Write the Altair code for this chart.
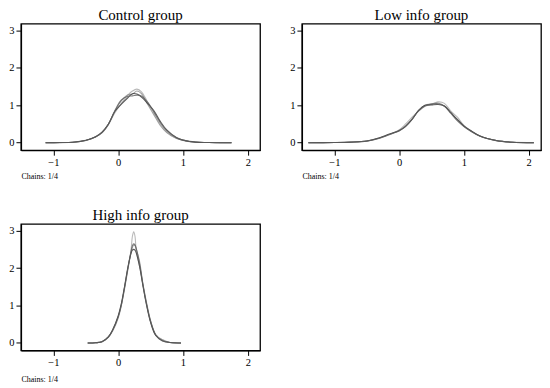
import altair as alt
import pandas as pd

# ---------------- data ----------------
panel_titles = ["Control group", "Low info group", "High info group"]
chain_names = ["1", "2", "3", "4"]
chain_colors = ["#a8a8a8", "#8a8a8a", "#333333", "#5c5c5c"]

ctrl_x = [-1.12, -0.9, -0.7, -0.5, -0.35, -0.25, -0.15, -0.05, 0.05, 0.15, 0.22,
          0.29, 0.36, 0.45, 0.55, 0.65, 0.75, 0.9, 1.1, 1.4, 1.75]
ctrl_y1 = [0, 0.002, 0.01, 0.06, 0.15, 0.26, 0.48, 0.80, 1.05, 1.27, 1.38,
           1.43, 1.36, 1.10, 0.80, 0.50, 0.29, 0.12, 0.03, 0.004, 0]
ctrl_y2 = [0, 0.002, 0.012, 0.06, 0.15, 0.27, 0.50, 0.84, 1.12, 1.28, 1.30,
           1.38, 1.31, 1.04, 0.75, 0.46, 0.27, 0.11, 0.025, 0.003, 0]
ctrl_y3 = [0, 0.003, 0.012, 0.065, 0.16, 0.28, 0.50, 0.84, 1.03, 1.20, 1.31,
           1.30, 1.22, 1.06, 0.86, 0.57, 0.34, 0.14, 0.035, 0.004, 0]
ctrl_y4 = [0, 0.003, 0.011, 0.06, 0.15, 0.27, 0.49, 0.86, 1.14, 1.24, 1.25,
           1.27, 1.25, 1.09, 0.83, 0.54, 0.32, 0.13, 0.03, 0.004, 0]

low_x = [-1.4, -1.0, -0.75, -0.5, -0.3, -0.15, 0.0, 0.1, 0.2, 0.3, 0.4,
         0.5, 0.6, 0.7, 0.8, 0.9, 1.0, 1.1, 1.25, 1.5, 1.75, 2.08]
low_y1 = [0, 0.003, 0.012, 0.04, 0.12, 0.21, 0.34, 0.50, 0.68, 0.84, 0.97,
          1.02, 1.09, 1.05, 0.84, 0.68, 0.46, 0.33, 0.18, 0.06, 0.015, 0]
low_y2 = [0, 0.004, 0.014, 0.045, 0.13, 0.22, 0.33, 0.45, 0.62, 0.86, 1.00,
          1.04, 1.06, 0.98, 0.80, 0.60, 0.44, 0.32, 0.17, 0.055, 0.012, 0]
low_y3 = [0, 0.004, 0.015, 0.045, 0.13, 0.23, 0.32, 0.43, 0.62, 0.86, 1.00,
          1.01, 1.02, 0.98, 0.80, 0.62, 0.45, 0.33, 0.18, 0.06, 0.013, 0]
low_y4 = [0, 0.003, 0.013, 0.042, 0.12, 0.22, 0.31, 0.44, 0.63, 0.85, 0.98,
          1.03, 1.04, 0.97, 0.78, 0.58, 0.43, 0.31, 0.17, 0.055, 0.012, 0]

high_x = [-0.47, -0.35, -0.25, -0.15, -0.08, 0.0, 0.05, 0.1, 0.15, 0.2, 0.22,
          0.24, 0.26, 0.28, 0.33, 0.38, 0.43, 0.5, 0.58, 0.68, 0.8, 0.97]
high_y1 = [0, 0.005, 0.03, 0.15, 0.33, 0.66, 1.0, 1.45, 1.95, 2.5, 2.85,
           2.97, 2.85, 2.45, 2.05, 1.6, 1.12, 0.58, 0.21, 0.07, 0.012, 0]
high_y2 = [0, 0.005, 0.035, 0.17, 0.36, 0.7, 1.02, 1.48, 1.98, 2.42, 2.55,
           2.62, 2.6, 2.5, 2.18, 1.6, 1.15, 0.6, 0.22, 0.09, 0.012, 0]
high_y3 = [0, 0.006, 0.03, 0.16, 0.37, 0.72, 1.06, 1.52, 2.02, 2.40, 2.48,
           2.50, 2.48, 2.40, 2.05, 1.55, 1.08, 0.55, 0.2, 0.06, 0.01, 0]
high_y4 = [0, 0.005, 0.03, 0.16, 0.35, 0.69, 1.02, 1.5, 2.0, 2.45, 2.6,
           2.65, 2.62, 2.52, 2.12, 1.58, 1.1, 0.58, 0.22, 0.06, 0.012, 0]

x_ticks = [-1, 0, 1, 2]
y_ticks = [0, 1, 2, 3]
x_domain = [-1.5, 2.19]
y_domain = [-0.2, 3.18]
footnote = "Chains: 1/4"

# ---------------- build ----------------
FONT = "Liberation Serif"


def make_df(xs, ys_list):
    rows = []
    for name, ys in zip(chain_names, ys_list):
        for i, (x, y) in enumerate(zip(xs, ys)):
            rows.append({"x": x, "y": y, "chain": name, "i": i})
    return pd.DataFrame(rows)


def panel(title, xs, ys_list, foot_pad=5):
    df = make_df(xs, ys_list)
    return alt.Chart(df).mark_line(
        strokeWidth=1.1, opacity=0.8, interpolate="catmull-rom"
    ).encode(
        x=alt.X("x:Q", scale=alt.Scale(domain=x_domain, nice=False, zero=False),
                axis=alt.Axis(values=x_ticks, title=footnote, titleAnchor="start",
                              titleAlign="left", titleFontSize=8, titleFont=FONT,
                              titleFontWeight="normal", titlePadding=foot_pad,
                              labelFont=FONT, labelFontSize=10.5,
                              labelExpr="datum.value < 0 ? '\u2212' + abs(datum.value) : datum.label")),
        y=alt.Y("y:Q", scale=alt.Scale(domain=y_domain, nice=False, zero=False),
                axis=alt.Axis(values=y_ticks, title=None, labelFont=FONT,
                              labelFontSize=10.5)),
        color=alt.Color("chain:N", scale=alt.Scale(domain=chain_names, range=chain_colors),
                        legend=None),
        order="i:Q",
    ).properties(
        width=240, height=127,
        title=alt.TitleParams(title, fontSize=15, font=FONT, fontWeight="normal",
                              offset=1),
    )


p1 = panel(panel_titles[0], ctrl_x, [ctrl_y1, ctrl_y2, ctrl_y3, ctrl_y4])
p2 = panel(panel_titles[1], low_x, [low_y1, low_y2, low_y3, low_y4])
p3 = panel(panel_titles[2], high_x, [high_y1, high_y2, high_y3, high_y4], foot_pad=8)

chart = alt.vconcat(
    alt.hconcat(p1, p2, spacing=28),
    p3,
    spacing=25,
).properties(
    padding={"left": 0, "top": -2, "right": 0, "bottom": 0}
).configure(
    font=FONT
).configure_view(
    stroke="black", strokeWidth=1.3
).configure_axis(
    labelFont=FONT, titleFont=FONT, labelColor="black",
    titleColor="black", domainColor="black", domainWidth=1.3,
    tickColor="black", tickSize=5, tickWidth=1, labelPadding=2, grid=False,
)

chart.save("out.html", embed_options={"renderer": "svg", "actions": False})
